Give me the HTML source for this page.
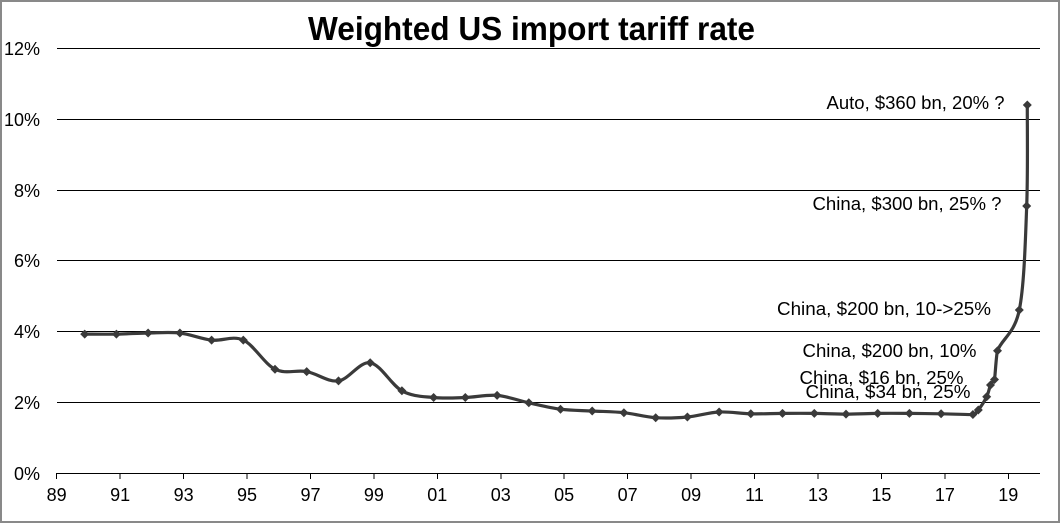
<!DOCTYPE html>
<html>
<head>
<meta charset="utf-8">
<style>
html,body{margin:0;padding:0;background:#fff;}
svg{display:block;}
text{font-family:"Liberation Sans",Arial,sans-serif;fill:#000;}
</style>
</head>
<body>
<svg width="1060" height="523" viewBox="0 0 1060 523" xmlns="http://www.w3.org/2000/svg">
<rect x="0" y="0" width="1060" height="523" fill="#fff"/>
<rect x="1" y="1" width="1058" height="521" fill="none" stroke="#898989" stroke-width="2"/>

<text x="308" y="40" font-size="33" font-weight="bold" textLength="447" lengthAdjust="spacingAndGlyphs">Weighted US  import tariff rate</text>

<g stroke="#000" stroke-width="1" shape-rendering="crispEdges">
<line x1="57" y1="48.5" x2="1040" y2="48.5"/>
<line x1="57" y1="119.5" x2="1040" y2="119.5"/>
<line x1="57" y1="190.5" x2="1040" y2="190.5"/>
<line x1="57" y1="260.5" x2="1040" y2="260.5"/>
<line x1="57" y1="331.5" x2="1040" y2="331.5"/>
<line x1="57" y1="402.5" x2="1040" y2="402.5"/>
<line x1="57" y1="473.5" x2="1040" y2="473.5"/>
<line x1="56.7" y1="473" x2="56.7" y2="479"/>
<line x1="120.1" y1="473" x2="120.1" y2="479"/>
<line x1="183.6" y1="473" x2="183.6" y2="479"/>
<line x1="247.0" y1="473" x2="247.0" y2="479"/>
<line x1="310.5" y1="473" x2="310.5" y2="479"/>
<line x1="373.9" y1="473" x2="373.9" y2="479"/>
<line x1="437.3" y1="473" x2="437.3" y2="479"/>
<line x1="500.8" y1="473" x2="500.8" y2="479"/>
<line x1="564.2" y1="473" x2="564.2" y2="479"/>
<line x1="627.7" y1="473" x2="627.7" y2="479"/>
<line x1="691.1" y1="473" x2="691.1" y2="479"/>
<line x1="754.5" y1="473" x2="754.5" y2="479"/>
<line x1="818.0" y1="473" x2="818.0" y2="479"/>
<line x1="881.4" y1="473" x2="881.4" y2="479"/>
<line x1="944.9" y1="473" x2="944.9" y2="479"/>
<line x1="1008.3" y1="473" x2="1008.3" y2="479"/>
</g>

<g font-size="18" text-anchor="end">
<text x="40" y="55">12%</text>
<text x="40" y="126">10%</text>
<text x="40" y="197">8%</text>
<text x="40" y="267">6%</text>
<text x="40" y="338">4%</text>
<text x="40" y="409">2%</text>
<text x="40" y="480">0%</text>
</g>

<g font-size="18" text-anchor="middle">
<text x="56.7" y="501">89</text>
<text x="120.1" y="501">91</text>
<text x="183.6" y="501">93</text>
<text x="247.0" y="501">95</text>
<text x="310.5" y="501">97</text>
<text x="373.9" y="501">99</text>
<text x="437.3" y="501">01</text>
<text x="500.8" y="501">03</text>
<text x="564.2" y="501">05</text>
<text x="627.7" y="501">07</text>
<text x="691.1" y="501">09</text>
<text x="754.5" y="501">11</text>
<text x="818.0" y="501">13</text>
<text x="881.4" y="501">15</text>
<text x="944.9" y="501">17</text>
<text x="1008.3" y="501">19</text>
</g>

<path fill="none" stroke="#3a3a3a" stroke-width="3.2" stroke-linejoin="round" stroke-linecap="round" d="M84.7,334.1
C90.0,334.1 105.8,334.3 116.4,334.1
C127.0,333.9 137.5,333.2 148.1,333.0
C158.7,332.8 169.3,331.8 179.9,333.0
C190.5,334.2 201.0,338.9 211.6,340.1
C222.2,341.3 232.7,335.3 243.3,340.1
C253.9,344.95 264.4,363.95 275.0,369.2
C285.6,374.45 296.1,369.65 306.7,371.6
C317.3,373.55 327.9,382.37 338.5,380.9
C349.1,379.43 359.6,361.15 370.2,362.8
C380.8,364.45 391.3,385.02 401.9,390.8
C412.5,396.58 423.0,396.38 433.6,397.5
C444.2,398.62 454.7,397.85 465.3,397.5
C475.9,397.15 486.5,394.52 497.1,395.4
C507.7,396.28 518.2,400.5 528.8,402.8
C539.4,405.1 549.9,407.83 560.5,409.2
C571.1,410.57 581.6,410.42 592.2,411.0
C602.8,411.58 613.3,411.58 623.9,412.7
C634.5,413.82 645.1,416.98 655.7,417.7
C666.3,418.42 676.8,417.95 687.4,417.0
C698.0,416.05 708.5,412.53 719.1,412.0
C729.7,411.47 740.2,413.57 750.8,413.8
C761.4,414.03 771.9,413.47 782.5,413.4
C793.1,413.33 803.7,413.28 814.3,413.4
C824.9,413.52 835.4,414.1 846.0,414.1
C856.6,414.1 867.1,413.52 877.7,413.4
C888.3,413.28 898.8,413.33 909.4,413.4
C920.0,413.47 930.5,413.62 941.1,413.8
C951.7,413.98 969.9,414.8 972.9,414.5
C974.9,414.3 976.0,413.0 978.3,410.0
C980.6,407.0 984.7,400.9 986.7,396.7
C988.7,392.5 989.2,387.9 990.5,385.0
C991.8,382.1 993.5,381.5 994.5,379.5
C995.1,376.6 996.3,354.2 997.5,350.7
C1001.6,339.1 1014.4,334.1 1019.3,310.0
C1024.2,285.9 1025.4,240.2 1026.7,206.0
C1028.0,171.8 1027.2,121.8 1027.3,105.0"/>

<path fill="#3a3a3a" d="
M84.7,329.6 l4.5,4.5 l-4.5,4.5 l-4.5,-4.5z
M116.4,329.6 l4.5,4.5 l-4.5,4.5 l-4.5,-4.5z
M148.1,328.5 l4.5,4.5 l-4.5,4.5 l-4.5,-4.5z
M179.9,328.5 l4.5,4.5 l-4.5,4.5 l-4.5,-4.5z
M211.6,335.6 l4.5,4.5 l-4.5,4.5 l-4.5,-4.5z
M243.3,335.6 l4.5,4.5 l-4.5,4.5 l-4.5,-4.5z
M275.0,364.7 l4.5,4.5 l-4.5,4.5 l-4.5,-4.5z
M306.7,367.1 l4.5,4.5 l-4.5,4.5 l-4.5,-4.5z
M338.5,376.4 l4.5,4.5 l-4.5,4.5 l-4.5,-4.5z
M370.2,358.3 l4.5,4.5 l-4.5,4.5 l-4.5,-4.5z
M401.9,386.3 l4.5,4.5 l-4.5,4.5 l-4.5,-4.5z
M433.6,393.0 l4.5,4.5 l-4.5,4.5 l-4.5,-4.5z
M465.3,393.0 l4.5,4.5 l-4.5,4.5 l-4.5,-4.5z
M497.1,390.9 l4.5,4.5 l-4.5,4.5 l-4.5,-4.5z
M528.8,398.3 l4.5,4.5 l-4.5,4.5 l-4.5,-4.5z
M560.5,404.7 l4.5,4.5 l-4.5,4.5 l-4.5,-4.5z
M592.2,406.5 l4.5,4.5 l-4.5,4.5 l-4.5,-4.5z
M623.9,408.2 l4.5,4.5 l-4.5,4.5 l-4.5,-4.5z
M655.7,413.2 l4.5,4.5 l-4.5,4.5 l-4.5,-4.5z
M687.4,412.5 l4.5,4.5 l-4.5,4.5 l-4.5,-4.5z
M719.1,407.5 l4.5,4.5 l-4.5,4.5 l-4.5,-4.5z
M750.8,409.3 l4.5,4.5 l-4.5,4.5 l-4.5,-4.5z
M782.5,408.9 l4.5,4.5 l-4.5,4.5 l-4.5,-4.5z
M814.3,408.9 l4.5,4.5 l-4.5,4.5 l-4.5,-4.5z
M846.0,409.6 l4.5,4.5 l-4.5,4.5 l-4.5,-4.5z
M877.7,408.9 l4.5,4.5 l-4.5,4.5 l-4.5,-4.5z
M909.4,408.9 l4.5,4.5 l-4.5,4.5 l-4.5,-4.5z
M941.1,409.3 l4.5,4.5 l-4.5,4.5 l-4.5,-4.5z
M972.9,410.0 l4.5,4.5 l-4.5,4.5 l-4.5,-4.5z
M978.3,405.5 l4.5,4.5 l-4.5,4.5 l-4.5,-4.5z
M986.7,392.2 l4.5,4.5 l-4.5,4.5 l-4.5,-4.5z
M990.5,380.5 l4.5,4.5 l-4.5,4.5 l-4.5,-4.5z
M994.5,375.0 l4.5,4.5 l-4.5,4.5 l-4.5,-4.5z
M997.5,346.2 l4.5,4.5 l-4.5,4.5 l-4.5,-4.5z
M1019.3,305.5 l4.5,4.5 l-4.5,4.5 l-4.5,-4.5z
M1026.7,201.5 l4.5,4.5 l-4.5,4.5 l-4.5,-4.5z
M1027.3,100.5 l4.5,4.5 l-4.5,4.5 l-4.5,-4.5z"/>

<g font-size="18">
<text x="826.5" y="109" textLength="178" lengthAdjust="spacingAndGlyphs">Auto, $360 bn, 20% ?</text>
<text x="812.5" y="210" textLength="189" lengthAdjust="spacingAndGlyphs">China, $300 bn, 25% ?</text>
<text x="777" y="315" textLength="214" lengthAdjust="spacingAndGlyphs">China, $200 bn, 10-&gt;25%</text>
<text x="802.5" y="357" textLength="174" lengthAdjust="spacingAndGlyphs">China, $200 bn, 10%</text>
<text x="799.5" y="384" textLength="164" lengthAdjust="spacingAndGlyphs">China, $16 bn, 25%</text>
<text x="805.5" y="398" textLength="165" lengthAdjust="spacingAndGlyphs">China, $34 bn, 25%</text>
</g>
</svg>
</body>
</html>
